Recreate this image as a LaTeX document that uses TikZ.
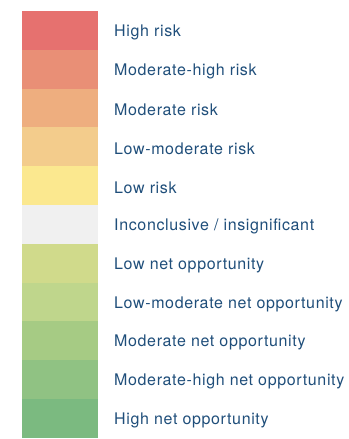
\documentclass[tikz,border=0pt]{standalone}
\usepackage{fontspec}
\setmainfont{TeX Gyre Heros}
\newfontfamily\lblfont[LetterSpace=4]{TeX Gyre Heros}
\definecolor{txt}{HTML}{1F4E7A}
\definecolor{c1}{HTML}{E6716F}
\definecolor{c2}{HTML}{E98F76}
\definecolor{c3}{HTML}{EEAE7F}
\definecolor{c4}{HTML}{F3CC8C}
\definecolor{c5}{HTML}{FBE88F}
\definecolor{c6}{HTML}{F0F0F0}
\definecolor{c7}{HTML}{D0DA8B}
\definecolor{c8}{HTML}{BFD68C}
\definecolor{c9}{HTML}{A6CB84}
\definecolor{c10}{HTML}{90C283}
\definecolor{c11}{HTML}{7BBA80}
\begin{document}
\begin{tikzpicture}[x=1pt,y=-1pt,
  swatch/.style={fill=#1,draw=none},
  lbl/.style={anchor=west,text=txt,font=\lblfont\fontsize{16}{18}\selectfont,inner sep=0pt}]
\useasboundingbox (0,0) rectangle (348,439);
\foreach \c/\t [count=\i from 0] in {c1/{High risk},c2/{Moderate-high risk},c3/{Moderate risk},c4/{Low-moderate risk},c5/{Low risk},c6/{Inconclusive / insignificant},c7/{Low net opportunity},c8/{Low-moderate net opportunity},c9/{Moderate net opportunity},c10/{Moderate-high net opportunity},c11/{High net opportunity}}{
  \fill[swatch=\c] (22,{11+38.8*\i}) rectangle (98,{11+38.8*(\i+1)+0.3});
  \node[lbl] (l\i) at (114,{11+38.8*(\i+0.5)+2}) {\t};
}
\end{tikzpicture}
\end{document}
